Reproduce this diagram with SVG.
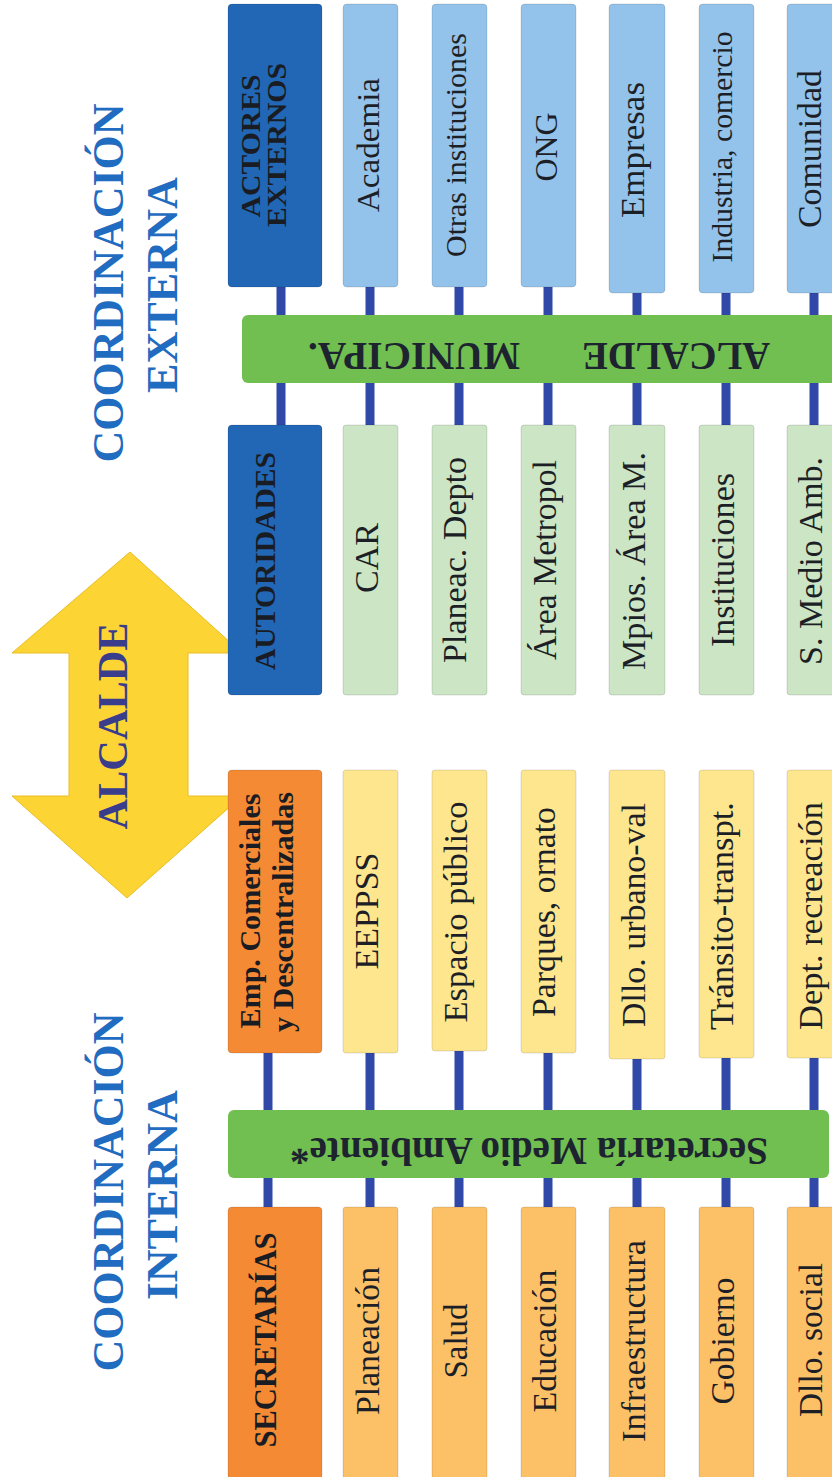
<svg xmlns="http://www.w3.org/2000/svg" width="832" height="1477" viewBox="0 0 832 1477">
  <style>
    .box { stroke: rgba(0,0,0,0.12); stroke-width: 1; }
    .hdrBlue { fill: #2167b5; }
    .ext { fill: #93c2ea; }
    .aut { fill: #cbe5c5; }
    .hdrOrange { fill: #f48a33; }
    .dec { fill: #fde68e; }
    .sec { fill: #fcc066; }
    .bar { fill: #70bf50; }
    .lbl { font-family: "Liberation Serif", "Times New Roman", serif; fill: #1c1f26; text-anchor: middle; }
    .hdr { font-family: "Liberation Serif", "Times New Roman", serif; font-weight: bold; fill: #1a1c24; text-anchor: middle; }
    .barTxt { font-family: "Liberation Serif", "Times New Roman", serif; font-weight: bold; fill: #1d2430; text-anchor: start; }
    .title { font-family: "Liberation Serif", "Times New Roman", serif; font-weight: bold; fill: #1f6cc0; text-anchor: middle; font-size: 45px; }
    .link { stroke: #3049a8; stroke-width: 9; fill: none; }
  </style>

  <!-- Section titles -->
  <g id="title-externa">
    <text class="title" transform="translate(123,283) rotate(-90)" textLength="359" lengthAdjust="spacingAndGlyphs">COORDINACIÓN</text>
    <text class="title" transform="translate(177,285) rotate(-90)" textLength="216" lengthAdjust="spacingAndGlyphs">EXTERNA</text>
  </g>
  <g id="title-interna">
    <text class="title" transform="translate(123,1192) rotate(-90)" textLength="359" lengthAdjust="spacingAndGlyphs">COORDINACIÓN</text>
    <text class="title" transform="translate(177,1195) rotate(-90)" textLength="210" lengthAdjust="spacingAndGlyphs">INTERNA</text>
  </g>

  <!-- Double-headed mayor arrow -->
  <g id="alcalde-arrow">
    <polygon points="130,552 242,653 188,653 188,796 242,796 127,898 12,796 69,796 69,653 12,653" fill="#fcd535" stroke="#e9bd22" stroke-width="1"/>
    <text class="hdr" transform="translate(127,726) rotate(-90)" style="font-size:42px; fill:#3a3d8c" textLength="207" lengthAdjust="spacingAndGlyphs">ALCALDE</text>
  </g>

  <!-- Connectors -->
  <g id="connectors">
    <line class="link" x1="281" y1="280" x2="281" y2="430"/>
    <line class="link" x1="370" y1="280" x2="370" y2="430"/>
    <line class="link" x1="459" y1="280" x2="459" y2="430"/>
    <line class="link" x1="548" y1="280" x2="548" y2="430"/>
    <line class="link" x1="637" y1="285" x2="637" y2="430"/>
    <line class="link" x1="726" y1="285" x2="726" y2="430"/>
    <line class="link" x1="814" y1="285" x2="814" y2="430"/>

    <line class="link" x1="268" y1="1045" x2="268" y2="1212"/>
    <line class="link" x1="370" y1="1045" x2="370" y2="1212"/>
    <line class="link" x1="459" y1="1045" x2="459" y2="1212"/>
    <line class="link" x1="548" y1="1045" x2="548" y2="1212"/>
    <line class="link" x1="637" y1="1050" x2="637" y2="1212"/>
    <line class="link" x1="726" y1="1050" x2="726" y2="1212"/>
    <line class="link" x1="814" y1="1050" x2="814" y2="1212"/>
  </g>

  <!-- External actors -->
  <g id="actores-externos">
    <rect class="box hdrBlue" x="228" y="4" width="94" height="283" rx="4"/>
    <text class="hdr" transform="translate(260,146) rotate(-90)" style="font-size:28px" textLength="143" lengthAdjust="spacingAndGlyphs">ACTORES</text>
    <text class="hdr" transform="translate(286,145) rotate(-90)" style="font-size:28px" textLength="164" lengthAdjust="spacingAndGlyphs">EXTERNOS</text>
  </g>
  <g id="academia">
    <rect class="box ext" x="343" y="4" width="55" height="283" rx="4"/>
    <text class="lbl" transform="translate(379,145) rotate(-90)" style="font-size:32px" textLength="134" lengthAdjust="spacingAndGlyphs">Academia</text>
  </g>
  <g id="otras-instituciones">
    <rect class="box ext" x="432" y="4" width="55" height="283" rx="4"/>
    <text class="lbl" transform="translate(466,145) rotate(-90)" style="font-size:30px" textLength="224" lengthAdjust="spacingAndGlyphs">Otras instituciones</text>
  </g>
  <g id="ong">
    <rect class="box ext" x="521" y="4" width="55" height="283" rx="4"/>
    <text class="lbl" transform="translate(557,147) rotate(-90)" style="font-size:32px" textLength="69" lengthAdjust="spacingAndGlyphs">ONG</text>
  </g>
  <g id="empresas">
    <rect class="box ext" x="609" y="4" width="56" height="289" rx="4"/>
    <text class="lbl" transform="translate(644,150) rotate(-90)" style="font-size:33px" textLength="136" lengthAdjust="spacingAndGlyphs">Empresas</text>
  </g>
  <g id="industria-comercio">
    <rect class="box ext" x="699" y="4" width="55" height="289" rx="4"/>
    <text class="lbl" transform="translate(732,147) rotate(-90)" style="font-size:30px" textLength="231" lengthAdjust="spacingAndGlyphs">Industria, comercio</text>
  </g>
  <g id="comunidad">
    <rect class="box ext" x="787" y="4" width="56" height="289" rx="4"/>
    <text class="lbl" transform="translate(821,149) rotate(-90)" style="font-size:33px" textLength="158" lengthAdjust="spacingAndGlyphs">Comunidad</text>
  </g>

  <!-- Mayor bar -->
  <g id="alcalde-municipal">
    <rect class="bar" x="242" y="315" width="600" height="68" rx="6"/>
    <text class="barTxt" transform="translate(770,343) rotate(180)" style="font-size:39px" textLength="188" lengthAdjust="spacingAndGlyphs">ALCALDE</text>
    <text class="barTxt" transform="translate(520,343) rotate(180)" style="font-size:39px" textLength="212" lengthAdjust="spacingAndGlyphs">MUNICIPA.</text>
  </g>

  <!-- Authorities -->
  <g id="autoridades">
    <rect class="box hdrBlue" x="228" y="425" width="94" height="270" rx="4"/>
    <text class="hdr" transform="translate(275,561) rotate(-90)" style="font-size:30px" textLength="218" lengthAdjust="spacingAndGlyphs">AUTORIDADES</text>
  </g>
  <g id="car">
    <rect class="box aut" x="343" y="425" width="55" height="270" rx="3"/>
    <text class="lbl" transform="translate(378,558) rotate(-90)" style="font-size:34px" textLength="70" lengthAdjust="spacingAndGlyphs">CAR</text>
  </g>
  <g id="planeac-depto">
    <rect class="box aut" x="432" y="425" width="55" height="270" rx="3"/>
    <text class="lbl" transform="translate(466,560) rotate(-90)" style="font-size:34px" textLength="206" lengthAdjust="spacingAndGlyphs">Planeac. Depto</text>
  </g>
  <g id="area-metropol">
    <rect class="box aut" x="521" y="425" width="55" height="270" rx="3"/>
    <text class="lbl" transform="translate(556,560) rotate(-90)" style="font-size:34px" textLength="200" lengthAdjust="spacingAndGlyphs">Área Metropol</text>
  </g>
  <g id="mpios-area-m">
    <rect class="box aut" x="609" y="425" width="56" height="270" rx="3"/>
    <text class="lbl" transform="translate(645,561) rotate(-90)" style="font-size:34px" textLength="218" lengthAdjust="spacingAndGlyphs">Mpios. Área M.</text>
  </g>
  <g id="instituciones">
    <rect class="box aut" x="699" y="425" width="55" height="270" rx="3"/>
    <text class="lbl" transform="translate(734,560) rotate(-90)" style="font-size:34px" textLength="174" lengthAdjust="spacingAndGlyphs">Instituciones</text>
  </g>
  <g id="s-medio-amb">
    <rect class="box aut" x="787" y="425" width="56" height="270" rx="3"/>
    <text class="lbl" transform="translate(822,561) rotate(-90)" style="font-size:34px" textLength="208" lengthAdjust="spacingAndGlyphs">S. Medio Amb.</text>
  </g>

  <!-- Decentralised entities -->
  <g id="emp-comerciales">
    <rect class="box hdrOrange" x="228" y="770" width="94" height="283" rx="4"/>
    <text class="hdr" transform="translate(260,911) rotate(-90)" style="font-size:30px" textLength="235" lengthAdjust="spacingAndGlyphs">Emp. Comerciales</text>
    <text class="hdr" transform="translate(293,912) rotate(-90)" style="font-size:30px" textLength="240" lengthAdjust="spacingAndGlyphs">y Descentralizadas</text>
  </g>
  <g id="eeppss">
    <rect class="box dec" x="343" y="770" width="55" height="283" rx="3"/>
    <text class="lbl" transform="translate(378,911) rotate(-90)" style="font-size:34px" textLength="117" lengthAdjust="spacingAndGlyphs">EEPPSS</text>
  </g>
  <g id="espacio-publico">
    <rect class="box dec" x="432" y="770" width="55" height="281" rx="3"/>
    <text class="lbl" transform="translate(467,912) rotate(-90)" style="font-size:34px" textLength="221" lengthAdjust="spacingAndGlyphs">Espacio público</text>
  </g>
  <g id="parques-ornato">
    <rect class="box dec" x="521" y="770" width="55" height="283" rx="3"/>
    <text class="lbl" transform="translate(555,912) rotate(-90)" style="font-size:34px" textLength="210" lengthAdjust="spacingAndGlyphs">Parques, ornato</text>
  </g>
  <g id="dllo-urbano-val">
    <rect class="box dec" x="609" y="770" width="56" height="289" rx="3"/>
    <text class="lbl" transform="translate(645,915) rotate(-90)" style="font-size:34px" textLength="224" lengthAdjust="spacingAndGlyphs">Dllo. urbano-val</text>
  </g>
  <g id="transito-transpt">
    <rect class="box dec" x="699" y="770" width="55" height="288" rx="3"/>
    <text class="lbl" transform="translate(733,916) rotate(-90)" style="font-size:34px" textLength="228" lengthAdjust="spacingAndGlyphs">Tránsito-transpt.</text>
  </g>
  <g id="dept-recreacion">
    <rect class="box dec" x="787" y="770" width="56" height="288" rx="3"/>
    <text class="lbl" transform="translate(822,916) rotate(-90)" style="font-size:34px" textLength="228" lengthAdjust="spacingAndGlyphs">Dept. recreación</text>
  </g>

  <!-- Environment secretariat bar -->
  <g id="secretaria-medio-ambiente">
    <rect class="bar" x="228" y="1110" width="601" height="68" rx="6"/>
    <text class="barTxt" transform="translate(768,1138) rotate(180)" style="font-size:40px" textLength="478" lengthAdjust="spacingAndGlyphs">Secretaría Medio Ambiente*</text>
  </g>

  <!-- Secretariats -->
  <g id="secretarias">
    <rect class="box hdrOrange" x="228" y="1207" width="94" height="272" rx="4"/>
    <text class="hdr" transform="translate(276,1340) rotate(-90)" style="font-size:31px" textLength="215" lengthAdjust="spacingAndGlyphs">SECRETARÍAS</text>
  </g>
  <g id="planeacion">
    <rect class="box sec" x="343" y="1207" width="55" height="272" rx="3"/>
    <text class="lbl" transform="translate(379,1341) rotate(-90)" style="font-size:34px" textLength="148" lengthAdjust="spacingAndGlyphs">Planeación</text>
  </g>
  <g id="salud">
    <rect class="box sec" x="432" y="1207" width="55" height="272" rx="3"/>
    <text class="lbl" transform="translate(467,1341) rotate(-90)" style="font-size:34px" textLength="75" lengthAdjust="spacingAndGlyphs">Salud</text>
  </g>
  <g id="educacion">
    <rect class="box sec" x="521" y="1207" width="55" height="272" rx="3"/>
    <text class="lbl" transform="translate(556,1341) rotate(-90)" style="font-size:34px" textLength="143" lengthAdjust="spacingAndGlyphs">Educación</text>
  </g>
  <g id="infraestructura">
    <rect class="box sec" x="609" y="1207" width="56" height="272" rx="3"/>
    <text class="lbl" transform="translate(645,1341) rotate(-90)" style="font-size:34px" textLength="202" lengthAdjust="spacingAndGlyphs">Infraestructura</text>
  </g>
  <g id="gobierno">
    <rect class="box sec" x="699" y="1207" width="55" height="272" rx="3"/>
    <text class="lbl" transform="translate(734,1341) rotate(-90)" style="font-size:34px" textLength="127" lengthAdjust="spacingAndGlyphs">Gobierno</text>
  </g>
  <g id="dllo-social">
    <rect class="box sec" x="787" y="1207" width="56" height="272" rx="3"/>
    <text class="lbl" transform="translate(822,1340) rotate(-90)" style="font-size:34px" textLength="154" lengthAdjust="spacingAndGlyphs">Dllo. social</text>
  </g>
</svg>
